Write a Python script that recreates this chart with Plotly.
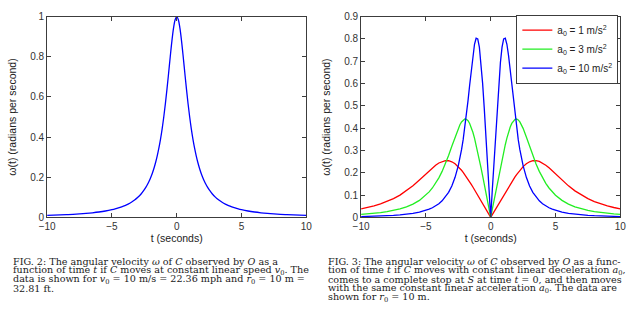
import plotly.graph_objects as go

# time axis (seconds), shared by every curve
t_seconds = [
    -10, -9.5, -9, -8.5, -8, -7.5, -7, -6.5, -6, -5.5, -5,
    -4.75, -4.5, -4.25, -4, -3.75, -3.5, -3.25, -3, -2.75,
    -2.5, -2.375, -2.25, -2.125, -2, -1.875, -1.75, -1.625, -1.5, -1.375,
    -1.25, -1.125, -1, -0.875, -0.75, -0.625, -0.5, -0.375, -0.25, -0.125,
    0,
    0.125, 0.25, 0.375, 0.5, 0.625, 0.75, 0.875, 1, 1.125, 1.25,
    1.375, 1.5, 1.625, 1.75, 1.875, 2, 2.125, 2.25, 2.375, 2.5,
    2.75, 3, 3.25, 3.5, 3.75, 4, 4.25, 4.5, 4.75,
    5, 5.5, 6, 6.5, 7, 7.5, 8, 8.5, 9, 9.5, 10,
]

# FIG. 2: constant linear speed
omega_const_speed = [
    0.0099, 0.011, 0.0122, 0.0137, 0.0154, 0.0175, 0.02, 0.0231, 0.027, 0.032, 0.0385,
    0.0424, 0.0471, 0.0525, 0.0588, 0.0664, 0.0755, 0.0865, 0.1, 0.1168,
    0.1379, 0.1506, 0.1649, 0.1813, 0.2, 0.2215, 0.2462, 0.2747, 0.3077, 0.3459,
    0.3902, 0.4414, 0.5, 0.5664, 0.64, 0.7191, 0.8, 0.8767, 0.9412, 0.9846,
    1.0,
    0.9846, 0.9412, 0.8767, 0.8, 0.7191, 0.64, 0.5664, 0.5, 0.4414, 0.3902,
    0.3459, 0.3077, 0.2747, 0.2462, 0.2215, 0.2, 0.1813, 0.1649, 0.1506, 0.1379,
    0.1168, 0.1, 0.0865, 0.0755, 0.0664, 0.0588, 0.0525, 0.0471, 0.0424,
    0.0385, 0.032, 0.027, 0.0231, 0.02, 0.0175, 0.0154, 0.0137, 0.0122, 0.011, 0.0099,
]

# FIG. 3: constant deceleration / acceleration a0
omega_a1 = [
    0.0385, 0.0445, 0.0517, 0.0605, 0.0712, 0.0842, 0.1000, 0.1190, 0.1415, 0.1673, 0.1951,
    0.2090, 0.2222, 0.2341, 0.2439, 0.2509, 0.2545, 0.2541, 0.2495, 0.2406,
    0.2278, 0.2200, 0.2115, 0.2022, 0.1923, 0.1819, 0.1710, 0.1597, 0.1481, 0.1363,
    0.1242, 0.1120, 0.0998, 0.0874, 0.0749, 0.0625, 0.05, 0.0375, 0.025, 0.0125,
    0.0,
    0.0125, 0.025, 0.0375, 0.05, 0.0625, 0.0749, 0.0874, 0.0998, 0.1120, 0.1242,
    0.1363, 0.1481, 0.1597, 0.1710, 0.1819, 0.1923, 0.2022, 0.2115, 0.2200, 0.2278,
    0.2406, 0.2495, 0.2541, 0.2545, 0.2509, 0.2439, 0.2341, 0.2222, 0.2090,
    0.1951, 0.1673, 0.1415, 0.1190, 0.1000, 0.0842, 0.0712, 0.0605, 0.0517, 0.0445, 0.0385,
]

omega_a3 = [
    0.0133, 0.0155, 0.0182, 0.0215, 0.0258, 0.0312, 0.0382, 0.0474, 0.0597, 0.0764, 0.0996,
    0.1144, 0.1320, 0.1529, 0.1775, 0.2064, 0.2399, 0.2778, 0.3189, 0.3608,
    0.3992, 0.4152, 0.4281, 0.4370, 0.4412, 0.4401, 0.4335, 0.4214, 0.4040, 0.3818,
    0.3555, 0.3258, 0.2934, 0.2591, 0.2234, 0.1869, 0.1498, 0.1124, 0.0750, 0.0375,
    0.0,
    0.0375, 0.0750, 0.1124, 0.1498, 0.1869, 0.2234, 0.2591, 0.2934, 0.3258, 0.3555,
    0.3818, 0.4040, 0.4214, 0.4335, 0.4401, 0.4412, 0.4370, 0.4281, 0.4152, 0.3992,
    0.3608, 0.3189, 0.2778, 0.2399, 0.2064, 0.1775, 0.1529, 0.1320, 0.1144,
    0.0996, 0.0764, 0.0597, 0.0474, 0.0382, 0.0312, 0.0258, 0.0215, 0.0182, 0.0155, 0.0133,
]

omega_a10 = [
    0.0040, 0.0047, 0.0055, 0.0065, 0.0078, 0.0095, 0.0116, 0.0145, 0.0185, 0.0239, 0.0318,
    0.0370, 0.0435, 0.0515, 0.0615, 0.0743, 0.0909, 0.1125, 0.1412, 0.1798,
    0.2322, 0.2652, 0.3038, 0.3485, 0.4, 0.4584, 0.5232, 0.5924, 0.6621, 0.7261,
    0.7762, 0.8033, 0.8, 0.7632, 0.6950, 0.6020, 0.4923, 0.3732, 0.2498, 0.1250,
    0.0,
    0.1250, 0.2498, 0.3732, 0.4923, 0.6020, 0.6950, 0.7632, 0.8, 0.8033, 0.7762,
    0.7261, 0.6621, 0.5924, 0.5232, 0.4584, 0.4, 0.3485, 0.3038, 0.2652, 0.2322,
    0.1798, 0.1412, 0.1125, 0.0909, 0.0743, 0.0615, 0.0515, 0.0435, 0.0370,
    0.0318, 0.0239, 0.0185, 0.0145, 0.0116, 0.0095, 0.0078, 0.0065, 0.0055, 0.0047, 0.0040,
]

series_names = [
    "a<sub>0</sub> = 1 m/s<sup>2</sup>",
    "a<sub>0</sub> = 3 m/s<sup>2</sup>",
    "a<sub>0</sub> = 10 m/s<sup>2</sup>",
]
series_colors = ["#ff0000", "#22ee22", "#0000ff"]

x_ticks = [-10, -5, 0, 5, 10]
y_ticks_left = [0, 0.2, 0.4, 0.6, 0.8, 1]
y_ticks_right = [0, 0.1, 0.2, 0.3, 0.4, 0.5, 0.6, 0.7, 0.8, 0.9]

caption_left = [
    "FIG. 2: The angular velocity <i>ω</i> of <i>C</i> observed by <i>O</i> as a",
    "function of time <i>t</i> if <i>C</i> moves at constant linear speed <i>v</i><sub>0</sub>. The",
    "data is shown for <i>v</i><sub>0</sub> = 10 m/s = 22.36 mph and <i>r</i><sub>0</sub> = 10 m =",
    "32.81 ft.",
]
caption_right = [
    "FIG. 3: The angular velocity <i>ω</i> of <i>C</i> observed by <i>O</i> as a func-",
    "tion of time <i>t</i> if <i>C</i> moves with constant linear deceleration <i>a</i><sub>0</sub>,",
    "comes to a complete stop at <i>S</i> at time <i>t</i> = 0, and then moves",
    "with the same constant linear acceleration <i>a</i><sub>0</sub>. The data are",
    "shown for <i>r</i><sub>0</sub> = 10 m.",
]

W, H = 640, 333
AX_COLOR = "#3c3c3c"
TICK_FONT = dict(family="Liberation Sans, Arial, sans-serif", size=10, color="#333333")

fig = go.Figure()

fig.add_trace(go.Scatter(
    x=t_seconds, y=omega_const_speed, mode="lines", line_shape="spline",
    line=dict(color="#0000ff", width=1.3), showlegend=False,
    xaxis="x", yaxis="y",
))

for vals, name, col in zip([omega_a1, omega_a3, omega_a10], series_names, series_colors):
    fig.add_trace(go.Scatter(
        x=t_seconds, y=vals, mode="lines", name=name,
        line=dict(color=col, width=1.3), xaxis="x2", yaxis="y2",
    ))


def px_x(p):
    return p / W


def px_y(p):
    return 1 - p / H


axis_common = dict(
    showline=True, linecolor=AX_COLOR, linewidth=1, mirror="ticks",
    ticks="inside", ticklen=4, tickcolor=AX_COLOR, showgrid=False,
    zeroline=False, tickfont=TICK_FONT,
)

title_font = dict(family="Liberation Sans, Arial, sans-serif", size=10.5, color="#222222")

fig.update_layout(
    width=W, height=H,
    margin=dict(l=0, r=0, t=0, b=0),
    paper_bgcolor="white", plot_bgcolor="white",
    xaxis=dict(domain=[px_x(40), px_x(305)], range=[-10, 10], tickvals=x_ticks,
               anchor="y", title=dict(text="t (seconds)", font=title_font, standoff=0),
               **axis_common),
    yaxis=dict(domain=[px_y(219), px_y(12)], range=[0, 1], tickvals=y_ticks_left,
               anchor="x", title=dict(text="ω(t) (radians per second)", font=title_font, standoff=11),
               **axis_common),
    xaxis2=dict(domain=[px_x(361), px_x(626)], range=[-10, 10], tickvals=x_ticks,
                anchor="y2", title=dict(text="t (seconds)", font=title_font, standoff=0),
                **axis_common),
    yaxis2=dict(domain=[px_y(219), px_y(12)], range=[0, 0.9], tickvals=y_ticks_right,
                anchor="x2", title=dict(text="ω(t) (radians per second)", font=title_font, standoff=11),
                **axis_common),
    legend=dict(
        x=px_x(624), xanchor="right", y=px_y(10), yanchor="top",
        bgcolor="white", bordercolor=AX_COLOR, borderwidth=1,
        font=dict(family="Liberation Sans, Arial, sans-serif", size=10, color="#222222"),
        tracegroupgap=0,
    ),
)

cap_font = dict(family="DejaVu Serif, Liberation Serif, serif", size=9.6, color="#1a1a1a")
line_ys = [264, 273.5, 283, 292.5, 302]

for i, txt in enumerate(caption_left):
    fig.add_annotation(text=txt, xref="paper", yref="paper", x=px_x(3), y=px_y(line_ys[i]),
                       xanchor="left", yanchor="middle", showarrow=False, font=cap_font)
for i, txt in enumerate(caption_right):
    fig.add_annotation(text=txt, xref="paper", yref="paper", x=px_x(325), y=px_y(line_ys[i]),
                       xanchor="left", yanchor="middle", showarrow=False, font=cap_font)

fig.write_html("out.html")
